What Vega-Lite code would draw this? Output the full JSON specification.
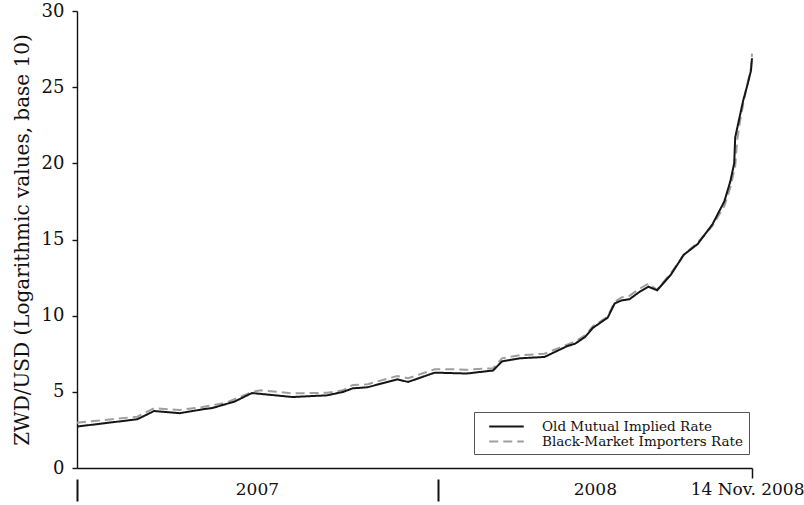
{
  "$schema": "https://vega.github.io/schema/vega-lite/v6.json",
  "width": 675,
  "height": 457,
  "autosize": {"type": "none"},
  "padding": {"left": 77, "top": 11, "right": 52, "bottom": 37},
  "background": "white",
  "config": {
    "view": {"stroke": null},
    "font": "DejaVu Serif",
    "axis": {"grid": false, "domainColor": "#111", "tickColor": "#111", "labelColor": "#111", "titleColor": "#111", "labelFont": "DejaVu Serif", "titleFont": "DejaVu Serif"},
    "legend": {
      "orient": "none", "legendX": 397, "legendY": 401, "title": null,
      "padding": 6, "strokeColor": "#555", "fillColor": "white",
      "labelFont": "DejaVu Serif", "labelFontSize": 13.5, "labelColor": "#111", "labelLimit": 400,
      "symbolType": "M-2.3,0H2.3", "symbolSize": 225, "symbolStrokeWidth": 2, "symbolOffset": 18,
      "labelOffset": 27, "rowPadding": 0
    }
  },
  "data": {"values": [
    {"s": "Old Mutual Implied Rate", "d": "2007-01-01", "v": 2.72},
    {"s": "Old Mutual Implied Rate", "d": "2007-03-03", "v": 3.2},
    {"s": "Old Mutual Implied Rate", "d": "2007-03-20", "v": 3.74},
    {"s": "Old Mutual Implied Rate", "d": "2007-04-15", "v": 3.6},
    {"s": "Old Mutual Implied Rate", "d": "2007-05-08", "v": 3.85},
    {"s": "Old Mutual Implied Rate", "d": "2007-05-18", "v": 3.94},
    {"s": "Old Mutual Implied Rate", "d": "2007-06-09", "v": 4.35},
    {"s": "Old Mutual Implied Rate", "d": "2007-06-27", "v": 4.92},
    {"s": "Old Mutual Implied Rate", "d": "2007-08-07", "v": 4.66},
    {"s": "Old Mutual Implied Rate", "d": "2007-09-11", "v": 4.77},
    {"s": "Old Mutual Implied Rate", "d": "2007-09-27", "v": 4.99},
    {"s": "Old Mutual Implied Rate", "d": "2007-10-07", "v": 5.23},
    {"s": "Old Mutual Implied Rate", "d": "2007-10-22", "v": 5.3},
    {"s": "Old Mutual Implied Rate", "d": "2007-11-21", "v": 5.82},
    {"s": "Old Mutual Implied Rate", "d": "2007-12-02", "v": 5.65},
    {"s": "Old Mutual Implied Rate", "d": "2007-12-29", "v": 6.26},
    {"s": "Old Mutual Implied Rate", "d": "2008-01-21", "v": 6.22},
    {"s": "Old Mutual Implied Rate", "d": "2008-01-30", "v": 6.2},
    {"s": "Old Mutual Implied Rate", "d": "2008-02-26", "v": 6.4},
    {"s": "Old Mutual Implied Rate", "d": "2008-03-06", "v": 7.0},
    {"s": "Old Mutual Implied Rate", "d": "2008-03-24", "v": 7.2},
    {"s": "Old Mutual Implied Rate", "d": "2008-04-18", "v": 7.29},
    {"s": "Old Mutual Implied Rate", "d": "2008-05-11", "v": 8.0},
    {"s": "Old Mutual Implied Rate", "d": "2008-05-19", "v": 8.16},
    {"s": "Old Mutual Implied Rate", "d": "2008-05-29", "v": 8.6},
    {"s": "Old Mutual Implied Rate", "d": "2008-06-06", "v": 9.2},
    {"s": "Old Mutual Implied Rate", "d": "2008-06-21", "v": 9.87},
    {"s": "Old Mutual Implied Rate", "d": "2008-06-28", "v": 10.8},
    {"s": "Old Mutual Implied Rate", "d": "2008-07-05", "v": 11.0},
    {"s": "Old Mutual Implied Rate", "d": "2008-07-13", "v": 11.08},
    {"s": "Old Mutual Implied Rate", "d": "2008-07-24", "v": 11.6},
    {"s": "Old Mutual Implied Rate", "d": "2008-08-01", "v": 11.9},
    {"s": "Old Mutual Implied Rate", "d": "2008-08-10", "v": 11.67},
    {"s": "Old Mutual Implied Rate", "d": "2008-08-24", "v": 12.7},
    {"s": "Old Mutual Implied Rate", "d": "2008-09-06", "v": 14.0},
    {"s": "Old Mutual Implied Rate", "d": "2008-09-20", "v": 14.7},
    {"s": "Old Mutual Implied Rate", "d": "2008-10-05", "v": 16.0},
    {"s": "Old Mutual Implied Rate", "d": "2008-10-17", "v": 17.5},
    {"s": "Old Mutual Implied Rate", "d": "2008-10-23", "v": 18.8},
    {"s": "Old Mutual Implied Rate", "d": "2008-10-27", "v": 20.0},
    {"s": "Old Mutual Implied Rate", "d": "2008-10-28", "v": 21.7},
    {"s": "Old Mutual Implied Rate", "d": "2008-11-01", "v": 22.9},
    {"s": "Old Mutual Implied Rate", "d": "2008-11-05", "v": 24.1},
    {"s": "Old Mutual Implied Rate", "d": "2008-11-10", "v": 25.3},
    {"s": "Old Mutual Implied Rate", "d": "2008-11-13", "v": 26.1},
    {"s": "Old Mutual Implied Rate", "d": "2008-11-14", "v": 26.9},
    {"s": "Black-Market Importers Rate", "d": "2007-01-01", "v": 2.97},
    {"s": "Black-Market Importers Rate", "d": "2007-03-03", "v": 3.37},
    {"s": "Black-Market Importers Rate", "d": "2007-03-20", "v": 3.92},
    {"s": "Black-Market Importers Rate", "d": "2007-04-15", "v": 3.81},
    {"s": "Black-Market Importers Rate", "d": "2007-05-08", "v": 4.0},
    {"s": "Black-Market Importers Rate", "d": "2007-06-01", "v": 4.29},
    {"s": "Black-Market Importers Rate", "d": "2007-06-27", "v": 4.99},
    {"s": "Black-Market Importers Rate", "d": "2007-07-06", "v": 5.1},
    {"s": "Black-Market Importers Rate", "d": "2007-08-07", "v": 4.9},
    {"s": "Black-Market Importers Rate", "d": "2007-09-11", "v": 4.94},
    {"s": "Black-Market Importers Rate", "d": "2007-09-27", "v": 5.1},
    {"s": "Black-Market Importers Rate", "d": "2007-10-07", "v": 5.45},
    {"s": "Black-Market Importers Rate", "d": "2007-10-22", "v": 5.5},
    {"s": "Black-Market Importers Rate", "d": "2007-11-21", "v": 6.04},
    {"s": "Black-Market Importers Rate", "d": "2007-12-02", "v": 5.89},
    {"s": "Black-Market Importers Rate", "d": "2007-12-29", "v": 6.48},
    {"s": "Black-Market Importers Rate", "d": "2008-01-21", "v": 6.48},
    {"s": "Black-Market Importers Rate", "d": "2008-01-30", "v": 6.45},
    {"s": "Black-Market Importers Rate", "d": "2008-02-26", "v": 6.55},
    {"s": "Black-Market Importers Rate", "d": "2008-03-06", "v": 7.2},
    {"s": "Black-Market Importers Rate", "d": "2008-03-24", "v": 7.4},
    {"s": "Black-Market Importers Rate", "d": "2008-04-18", "v": 7.5},
    {"s": "Black-Market Importers Rate", "d": "2008-05-11", "v": 8.1},
    {"s": "Black-Market Importers Rate", "d": "2008-05-19", "v": 8.3},
    {"s": "Black-Market Importers Rate", "d": "2008-05-29", "v": 8.7},
    {"s": "Black-Market Importers Rate", "d": "2008-06-06", "v": 9.3},
    {"s": "Black-Market Importers Rate", "d": "2008-06-21", "v": 9.95},
    {"s": "Black-Market Importers Rate", "d": "2008-06-28", "v": 10.9},
    {"s": "Black-Market Importers Rate", "d": "2008-07-05", "v": 11.2},
    {"s": "Black-Market Importers Rate", "d": "2008-07-13", "v": 11.3},
    {"s": "Black-Market Importers Rate", "d": "2008-07-24", "v": 11.8},
    {"s": "Black-Market Importers Rate", "d": "2008-08-01", "v": 12.1},
    {"s": "Black-Market Importers Rate", "d": "2008-08-10", "v": 11.7},
    {"s": "Black-Market Importers Rate", "d": "2008-08-24", "v": 12.8},
    {"s": "Black-Market Importers Rate", "d": "2008-09-06", "v": 14.0},
    {"s": "Black-Market Importers Rate", "d": "2008-09-20", "v": 14.8},
    {"s": "Black-Market Importers Rate", "d": "2008-10-05", "v": 15.9},
    {"s": "Black-Market Importers Rate", "d": "2008-10-17", "v": 17.2},
    {"s": "Black-Market Importers Rate", "d": "2008-10-23", "v": 18.4},
    {"s": "Black-Market Importers Rate", "d": "2008-10-28", "v": 19.8},
    {"s": "Black-Market Importers Rate", "d": "2008-10-30", "v": 21.5},
    {"s": "Black-Market Importers Rate", "d": "2008-11-02", "v": 22.8},
    {"s": "Black-Market Importers Rate", "d": "2008-11-06", "v": 24.2},
    {"s": "Black-Market Importers Rate", "d": "2008-11-10", "v": 25.4},
    {"s": "Black-Market Importers Rate", "d": "2008-11-13", "v": 26.3},
    {"s": "Black-Market Importers Rate", "d": "2008-11-14", "v": 27.2}
  ]},
  "encoding": {
    "y": {
      "field": "v", "type": "quantitative",
      "scale": {"domain": [0, 30], "nice": false, "zero": true},
      "axis": {
        "values": [0, 5, 10, 15, 20, 25, 30],
        "title": "ZWD/USD (Logarithmic values, base 10)",
        "titleFontSize": 20, "titleFontWeight": "normal", "titlePadding": 9,
        "labelFontSize": 18, "tickSize": 5, "labelPadding": 8, "domainWidth": 1.4, "tickWidth": 1.4
      }
    },
    "color": {
      "field": "s", "type": "nominal",
      "scale": {"domain": ["Old Mutual Implied Rate", "Black-Market Importers Rate"], "range": ["#151515", "#9e9e9e"]}
    },
    "strokeDash": {
      "field": "s", "type": "nominal",
      "scale": {"domain": ["Old Mutual Implied Rate", "Black-Market Importers Rate"], "range": [[1, 0], [9, 5]]}
    }
  },
  "layer": [
    {
      "transform": [{"filter": "datum.s == 'Black-Market Importers Rate'"}],
      "mark": {"type": "line", "strokeWidth": 2},
      "encoding": {
        "x": {
          "field": "d", "type": "temporal", "title": null,
          "scale": {"domain": [{"year": 2007, "month": 1, "date": 1, "utc": true}, {"year": 2008, "month": 11, "date": 14, "utc": true}]},
          "axis": {
            "orient": "bottom",
            "values": [{"year": 2007, "month": 1, "date": 1, "utc": true}, {"year": 2008, "month": 1, "date": 1, "utc": true}],
            "domain": false, "labels": false, "ticks": true, "tickSize": 22, "tickWidth": 2, "offset": 11
          }
        }
      }
    },
    {
      "transform": [{"filter": "datum.s == 'Old Mutual Implied Rate'"}],
      "mark": {"type": "line", "strokeWidth": 2},
      "encoding": {
        "x": {
          "field": "d", "type": "temporal", "title": null,
          "axis": {
            "orient": "bottom",
            "values": [
              {"year": 2007, "month": 7, "date": 2, "utc": true},
              {"year": 2008, "month": 6, "date": 8, "utc": true},
              {"year": 2008, "month": 11, "date": 9, "utc": true},
              {"year": 2008, "month": 11, "date": 14, "utc": true}
            ],
            "labelExpr": "utcyear(datum.value) == 2007 ? '2007' : (utcmonth(datum.value) == 5 ? '2008' : (utcdate(datum.value) == 9 ? '14 Nov. 2008' : ''))",
            "domain": true, "domainWidth": 1.4, "ticks": true, "tickSize": 10, "tickWidth": 1.5,
            "tickOpacity": {"condition": {"test": "utcdate(datum.value) == 14", "value": 1}, "value": 0},
            "labelFontSize": 17, "labelPadding": 3, "labelFlush": false, "labelOverlap": false
          }
        }
      }
    }
  ],
  "resolve": {"axis": {"x": "independent"}}
}
